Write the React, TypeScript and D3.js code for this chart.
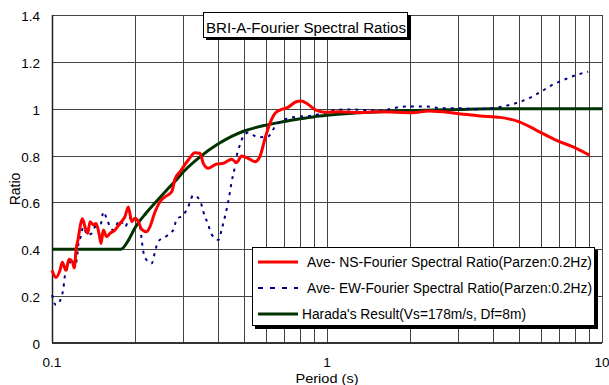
import React from 'react'
import * as d3 from 'd3'

const W = 609
const H = 385
const margin = { left: 52, right: 7, top: 15, bottom: 42 }

// NS average spectral ratio: [period (s), ratio]
const nsSeries: [number, number][] = [
  [0.1, 0.31], [0.1034, 0.28], [0.1069, 0.31], [0.109, 0.345], [0.1124, 0.31],
  [0.1153, 0.358], [0.1186, 0.347], [0.1205, 0.32], [0.1223, 0.397], [0.1246, 0.447],
  [0.1272, 0.51], [0.129, 0.53], [0.1318, 0.496], [0.1348, 0.468], [0.1375, 0.518],
  [0.1414, 0.504], [0.1446, 0.51], [0.1486, 0.461], [0.1507, 0.425], [0.1537, 0.482],
  [0.158, 0.454], [0.1625, 0.468], [0.1694, 0.482], [0.1766, 0.51], [0.1842, 0.539],
  [0.1895, 0.581], [0.195, 0.518], [0.2003, 0.532], [0.206, 0.518], [0.2119, 0.485],
  [0.2208, 0.475], [0.227, 0.496], [0.237, 0.56], [0.247, 0.603], [0.2577, 0.624],
  [0.2725, 0.646], [0.28, 0.7], [0.292, 0.731], [0.313, 0.781], [0.331, 0.812],
  [0.345, 0.81], [0.355, 0.767], [0.37, 0.746], [0.397, 0.764], [0.42, 0.767],
  [0.45, 0.784], [0.469, 0.77], [0.489, 0.798], [0.517, 0.788], [0.547, 0.774],
  [0.57, 0.795], [0.595, 0.873], [0.62, 0.937], [0.647, 0.98], [0.674, 0.994],
  [0.721, 1.006], [0.773, 1.03], [0.805, 1.033], [0.85, 1.02], [0.912, 0.994],
  [0.99, 0.985], [1.11, 0.987], [1.31, 0.983], [1.55, 0.987], [2.05, 0.983],
  [2.35, 0.99], [2.96, 0.98], [3.6, 0.969], [4.25, 0.963], [5.0, 0.944],
  [5.76, 0.909], [6.8, 0.866], [8.06, 0.831], [9.0, 0.802],
]

// EW average spectral ratio
const ewSeries: [number, number][] = [
  [0.1, 0.205], [0.1034, 0.162], [0.1078, 0.19], [0.11, 0.233], [0.1115, 0.29],
  [0.1146, 0.326], [0.1179, 0.354], [0.1212, 0.326], [0.1236, 0.376], [0.1246, 0.418],
  [0.1272, 0.454], [0.13, 0.496], [0.1344, 0.461], [0.1394, 0.468], [0.1434, 0.496],
  [0.1507, 0.51], [0.1537, 0.56], [0.158, 0.532], [0.1625, 0.496], [0.167, 0.482],
  [0.1766, 0.525], [0.1842, 0.496], [0.1921, 0.532], [0.203, 0.528], [0.209, 0.496],
  [0.2119, 0.44], [0.2148, 0.39], [0.2208, 0.354], [0.2305, 0.34], [0.237, 0.39],
  [0.243, 0.432], [0.261, 0.457], [0.276, 0.482], [0.284, 0.528], [0.3, 0.546],
  [0.313, 0.582], [0.326, 0.63], [0.345, 0.61], [0.355, 0.56], [0.37, 0.504],
  [0.38, 0.465], [0.403, 0.44], [0.415, 0.49], [0.426, 0.542], [0.435, 0.589],
  [0.443, 0.64], [0.45, 0.689], [0.46, 0.738], [0.466, 0.781], [0.478, 0.831],
  [0.496, 0.881], [0.517, 0.898], [0.562, 0.878], [0.61, 0.881], [0.647, 0.923],
  [0.674, 0.944], [0.721, 0.959], [0.78, 0.966], [0.866, 0.969], [0.96, 0.98],
  [1.07, 0.994], [1.18, 0.997], [1.4, 0.994], [1.6, 0.992], [1.74, 1.002],
  [1.92, 1.009], [2.11, 1.009], [2.33, 1.009], [2.58, 1.002], [2.84, 1.002],
  [3.13, 1.002], [3.45, 0.997], [3.8, 1.0], [4.2, 1.006], [4.6, 1.016],
  [5.05, 1.03], [5.56, 1.051], [6.06, 1.076], [6.57, 1.101], [7.22, 1.122],
  [8.06, 1.144], [8.9, 1.158],
]

// Harada's theoretical result
const haradaSeries: [number, number][] = [
  [0.1, 0.4], [0.178, 0.4], [0.19, 0.44], [0.2, 0.49], [0.22, 0.555],
  [0.24, 0.605], [0.26, 0.65], [0.28, 0.69], [0.3, 0.73], [0.35, 0.8],
  [0.4, 0.848], [0.45, 0.882], [0.5, 0.905], [0.6, 0.93], [0.7, 0.945],
  [0.8, 0.957], [0.9, 0.966], [1.0, 0.972], [1.2, 0.98], [1.5, 0.986],
  [2, 0.992], [3, 0.997], [4, 1.0], [10, 1.0],
]

const yTicks = [0, 0.2, 0.4, 0.6, 0.8, 1, 1.2, 1.4]
const xLabelTicks = [0.1, 1, 10]
const xGrid = [0.2, 0.3, 0.4, 0.5, 0.6, 0.7, 0.8, 0.9, 1, 2, 3, 4, 5, 6, 7, 8, 9, 10]

const legendItems = [
  { label: 'Ave- NS-Fourier Spectral Ratio(Parzen:0.2Hz)', color: '#ff0000', dash: '', width: 3, tx: 307, len: 285 },
  { label: 'Ave- EW-Fourier Spectral Ratio(Parzen:0.2Hz)', color: '#000080', dash: '5,7', width: 2, tx: 307, len: 285 },
  { label: "Harada's Result(Vs=178m/s, Df=8m)", color: '#003300', dash: '', width: 3, tx: 302, len: 224 },
]

const font = "'Liberation Sans', Arial, sans-serif"

export default function App() {
  const x = d3.scaleLog().domain([0.1, 10]).range([margin.left, W - margin.right])
  const y = d3.scaleLinear().domain([0, 1.4]).range([H - margin.bottom, margin.top])

  const line = d3.line<[number, number]>()
    .x(d => x(d[0]))
    .y(d => y(d[1]))
    .curve(d3.curveMonotoneX)

  const left = margin.left
  const right = W - margin.right
  const top = margin.top
  const bottom = H - margin.bottom
  const crisp = (v: number) => Math.round(v) + 0.5

  return (
    <svg width={W} height={H} style={{ position: 'absolute', left: 0, top: 0, background: '#fff' }}
      fontFamily={font}>
      <rect x={0} y={0} width={W} height={H} fill="#fff" />
      {/* grid */}
      {yTicks.map(t => (
        <line key={'h' + t} x1={left} x2={right} y1={crisp(y(t))} y2={crisp(y(t))} stroke="#444" strokeWidth={1} />
      ))}
      {xGrid.map(t => (
        <line key={'v' + t} x1={crisp(x(t))} x2={crisp(x(t))} y1={top} y2={bottom} stroke="#444" strokeWidth={1} />
      ))}
      <line x1={crisp(left)} x2={crisp(left)} y1={top} y2={bottom} stroke="#222" strokeWidth={1.5} />
      <line x1={left} x2={right} y1={bottom} y2={bottom} stroke="#333" strokeWidth={2} />

      {/* series */}
      <path d={line(haradaSeries) || ''} fill="none" stroke="#003300" strokeWidth={3} />
      <path d={line(ewSeries) || ''} fill="none" stroke="#000080" strokeWidth={2} strokeDasharray="3,5" />
      <path d={line(nsSeries) || ''} fill="none" stroke="#ff0000" strokeWidth={3} />

      {/* axis labels */}
      {yTicks.map(t => (
        <text key={'yl' + t} x={40} y={y(t) + 6} textAnchor="end" fontSize={13.5}>{String(+t.toFixed(1))}</text>
      ))}
      {xLabelTicks.map(t => (
        <text key={'xl' + t} x={x(t)} y={367} textAnchor="middle" fontSize={13.5}>{t}</text>
      ))}
      <text x={x(1)} y={383} textAnchor="middle" fontSize={13.5} textLength={63} lengthAdjust="spacingAndGlyphs">Period (s)</text>
      <text transform={`translate(20,${(top + bottom) / 2 + 10}) rotate(-90)`} textAnchor="middle" fontSize={14}>Ratio</text>

      {/* title */}
      <rect x={206} y={15} width={205} height={25} fill="#000" />
      <rect x={203.5} y={12.5} width={204} height={25} fill="#fff" stroke="#000" strokeWidth={1} />
      <text x={306} y={33} textAnchor="middle" fontSize={14} textLength={200} lengthAdjust="spacingAndGlyphs">BRI-A-Fourier Spectral Ratios</text>

      {/* legend */}
      <rect x={255} y={250} width={343} height={79} fill="#000" />
      <rect x={252.5} y={247.5} width={342} height={78} fill="#fff" stroke="#000" strokeWidth={1} />
      {legendItems.map((it, i) => {
        const ly = 262 + i * 26
        return (
          <g key={it.label}>
            <line x1={258} x2={298} y1={ly} y2={ly} stroke={it.color} strokeWidth={it.width}
              strokeDasharray={it.dash || undefined} />
            <text x={it.tx} y={ly + 5} fontSize={14} textLength={it.len} lengthAdjust="spacingAndGlyphs">{it.label}</text>
          </g>
        )
      })}
    </svg>
  )
}
